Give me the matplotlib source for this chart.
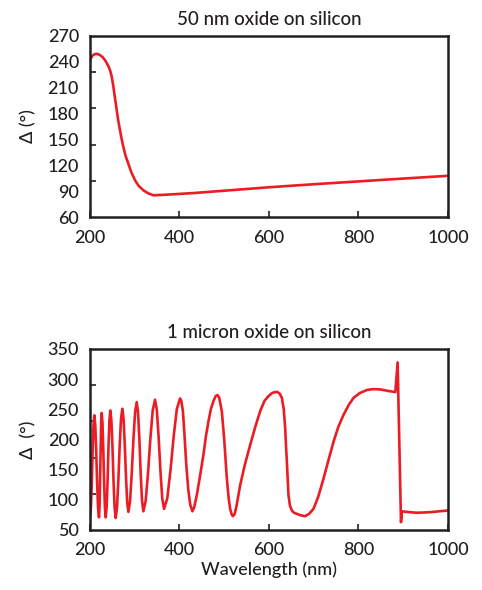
import matplotlib
matplotlib.use("Agg")
import matplotlib.pyplot as plt
from matplotlib.ticker import FixedLocator

plt.rcParams['font.family'] = ['Lato', 'DejaVu Sans']

# Top panel: 50 nm oxide on silicon
top_wl = [200, 202.2, 206, 211.2, 216, 222.3, 228, 233.5, 239, 242, 245, 248.5,
          252.1, 256, 259.6, 263.3, 267, 270.7, 274.5, 279.5, 285.6, 292.5, 300.6,
          309, 319.2, 330, 341.5, 360, 400, 434.6, 500, 600, 700, 800, 900, 1000]
top_delta = [242, 244.1, 247.5, 249.1, 249.3, 247.9, 245.5, 242.1, 237, 234, 230, 223,
             212, 197.5, 184.5, 171.5, 160.8, 150.5, 141.4, 131, 122, 111.8, 102.7,
             96, 91, 87.5, 85.2, 85.6, 86.8, 87.9, 90.5, 94.5, 98, 101.3, 104.6, 107.8]

# Bottom panel: 1 micron oxide on silicon
bot_wl = [200.5, 202.3, 204.2, 206.0, 207.9, 209.7,
          211.8, 213.9, 215.9, 218.0, 220.1,
          221.3, 222.5, 223.7, 224.9, 226.1,
          227.9, 229.7, 231.5, 233.3, 235.1,
          237.2, 239.3, 241.3, 243.4, 245.5,
          247.9, 250.3, 252.6, 255.0, 257.4,
          260.4, 263.4, 266.3, 269.3, 272.3,
          275.0, 277.7, 280.4, 283.1, 285.8,
          289.5, 293.2, 297.0, 300.7, 304.4,
          307.4, 310.4, 313.3, 316.3, 319.3,
          324.5, 329.7, 335.0, 340.2, 345.4,
          349.4, 353.4, 357.5, 361.5, 365.5,
          372.7, 379.8, 387.0, 394.1, 401.3,
          404, 407.5, 411, 415, 419.5, 424, 428.9,
          433, 438.6, 446, 453.5, 459, 464.7, 470, 475.9, 481, 484.9,
          488.5, 494.6, 500, 505.8, 510, 513.2, 516.5, 519.2,
          523, 527, 535.6, 546, 558, 569, 580.3, 590, 599, 608, 617.6,
          624, 628.8, 633, 636.2, 638, 640, 642, 643.6, 647, 651.1, 656, 662.3, 670, 681,
          690, 699.6, 710, 722, 733, 744.4, 755, 766.7, 778, 789, 803, 818.8, 833, 848.8,
          866, 882.3, 887.5, 895, 897.3, 915, 930.8, 960, 1000]
bot_delta = [75, 90.7, 131.9, 183.1, 224.3, 240,
             223.9, 181.7, 129.3, 87.1, 71,
             87.4, 130.7, 184.3, 227.6, 244,
             227.6, 184.3, 130.7, 87.4, 71,
             87.8, 132.1, 186.9, 231.2, 248,
             231.1, 186.6, 131.4, 86.9, 70,
             87.2, 132.4, 188.6, 233.8, 251,
             234.8, 192, 139, 96.2, 80,
             97.3, 142.8, 199.2, 244.7, 262,
             244.8, 199.6, 143.4, 98.2, 81,
             98.6, 144.8, 202.2, 248.4, 266,
             248.8, 203.6, 147.4, 102.2, 85,
             102.4, 148.1, 204.9, 250.6, 268,
             264, 248, 210, 160, 118, 92, 81,
             88, 107.5, 140, 174.4, 205, 230, 250, 263.6, 272, 273.6,
             270, 246.9, 200, 135.4, 102, 85.2, 76, 73,
             76, 88, 124.3, 158, 191, 220, 246.9, 264, 272, 277.5, 279,
             276, 269, 250, 219, 190, 163, 130, 107.5, 90, 82.4, 78.5, 76.8, 74.5, 72.9,
             77, 85.2, 105, 135.4, 166, 196.7, 221, 241, 257, 269, 277, 282, 283.5, 283,
             280.5, 278.6, 327.7, 63, 80.8, 79.5, 78.6, 79.5, 82.4]

top_yticks = [60, 90, 120, 150, 180, 210, 240, 270]
bot_yticks = [50, 100, 150, 200, 250, 300, 350]
xticks = [200, 400, 600, 800, 1000]

red = '#ec1c24'
spine_col = '#231f20'
text_col = '#231f20'
fs = 13

fig = plt.figure(figsize=(4.82, 5.90), dpi=100)
ax1 = fig.add_axes([0.1867, 0.6322, 0.7427, 0.3068])
ax2 = fig.add_axes([0.1867, 0.1017, 0.7427, 0.3068])


def style(ax, yticks, title):
    ax.set_xlim(200, 1000)
    ax.set_ylim(yticks[0], yticks[-1])
    ax.set_xticks(xticks)
    ax.set_yticks(yticks)
    ax.set_yticklabels([str(t) for t in yticks])
    lo, hi = yticks[0], yticks[-1]
    step = (hi - lo) / 5
    ax.yaxis.set_minor_locator(FixedLocator([lo + step * k for k in range(1, 5)]))
    ax.tick_params(axis='y', which='major', length=0, pad=8, labelsize=fs, colors=text_col)
    ax.tick_params(axis='y', which='minor', direction='in', length=4, width=1.2, color=spine_col)
    ax.tick_params(axis='x', which='major', direction='in', length=4, width=1.2, pad=9,
                   labelsize=fs, color=spine_col, labelcolor=text_col)
    for lab in ax.get_xticklabels() + ax.get_yticklabels():
        lab.set_fontweight('medium')
    for s in ax.spines.values():
        s.set_linewidth(1.8)
        s.set_color(spine_col)
    ax.set_title(title, fontsize=13.5, color=text_col, pad=8, fontweight='medium')


ax1.plot(top_wl, top_delta, color=red, lw=1.9, solid_joinstyle='round', solid_capstyle='round')
style(ax1, top_yticks, '50 nm oxide on silicon')
ax1.set_ylabel('Δ (°)', fontsize=fs, color=text_col, labelpad=8, fontweight='medium')

ax2.plot(bot_wl, bot_delta, color=red, lw=1.9, solid_joinstyle='round', solid_capstyle='round')
style(ax2, bot_yticks, '1 micron oxide on silicon')
ax2.set_ylabel('Δ  (°)', fontsize=fs, color=text_col, labelpad=8, fontweight='medium')
ax2.set_xlabel('Wavelength (nm)', fontsize=fs, color=text_col, labelpad=2, fontweight='medium')

fig.savefig('out.png', dpi=100)
